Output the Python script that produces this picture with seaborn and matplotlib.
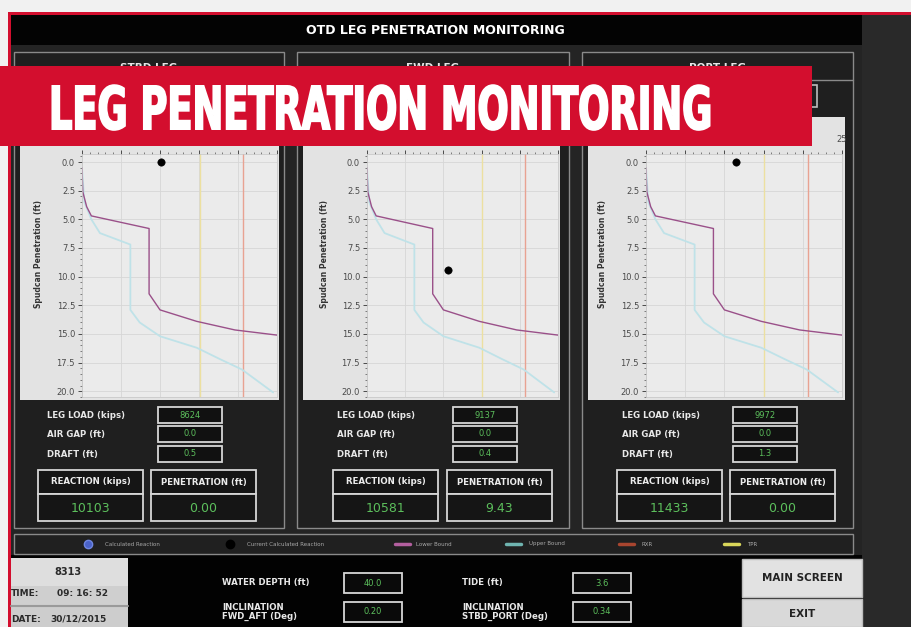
"""
Leg penetration monitoring screen - rebuilt with seaborn / matplotlib.
"""
import numpy as np
import pandas as pd
import matplotlib
matplotlib.use("Agg")
import matplotlib.pyplot as plt
import seaborn as sns
from matplotlib.patches import Rectangle
from matplotlib import patheffects
from matplotlib.ticker import MultipleLocator
from matplotlib.transforms import Affine2D

legs = ["STBD LEG", "FWD LEG", "PORT LEG"]
leg_load = [8624, 9137, 9972]
air_gap = [0.0, 0.0, 0.0]
draft = [0.5, 0.4, 1.3]
reaction = [10103, 10581, 11433]
penetration = [0.00, 9.43, 0.00]

# bound curves: reaction (x1000 kips) vs spudcan penetration (ft)
lower_x = [0.0, 0.1, 0.6, 1.2, 8.6, 8.6, 10.0, 14.7, 19.6, 25.0]
lower_y = [0.5, 2.6, 3.9, 4.7, 5.8, 11.5, 12.9, 13.9, 14.65, 15.1]
upper_x = [0.0, 0.3, 1.2, 2.3, 6.2, 6.2, 7.4, 10.0, 14.7, 17.7, 20.5, 24.5]
upper_y = [0.5, 3.5, 5.0, 6.2, 7.2, 12.9, 14.0, 15.2, 16.2, 17.2, 18.1, 20.1]
rxr = 20.7
tpr = 15.1

water_depth = 40.0
tide = 3.6
incl_fwd_aft = 0.20
incl_stbd_port = 0.34
screen_id = "8313"
time_str = "09: 16: 52"
date_str = "30/12/2015"

legend_items = ["Calculated Reaction", "Current Calculated Reaction",
                "Lower Bound", "Upper Bound", "RXR", "TPR"]

# colours
RED = "#d30e2e"
GREEN = "#5cbf5c"
LOW_C = "#9a5089"
UP_C = "#bfe2e8"
RXR_C = "#e8a292"
TPR_C = "#ece0a0"

# pixel layout of the 912x627 screen
W, H = 912, 627
panel_x = [(14, 284), (297, 569), (582, 853)]
axes_x = [(82, 277), (367, 558), (646, 842)]
chart_x = [(20, 279), (303, 560), (588, 845)]
label_x = [47, 337, 622]
valbox_x = [158, 453, 733]
react_x = [38, 333, 617]
pen_x = [151, 447, 730]


class Stretch(patheffects.AbstractPathEffect):
    """Draw text stretched vertically about its baseline (display px), with an outline."""

    def __init__(self, sy, y0, stroke=0.0):
        super().__init__()
        self.sy, self.y0, self.stroke = sy, y0, stroke

    def draw_path(self, renderer, gc, tpath, affine, rgbFace=None):
        aff = affine + Affine2D().translate(0, -self.y0).scale(1, self.sy).translate(0, self.y0)
        gc0 = renderer.new_gc()
        gc0.copy_properties(gc)
        gc0.set_linewidth(self.stroke)
        gc0.set_joinstyle("miter")
        renderer.draw_path(gc0, tpath, aff, rgbFace)
        gc0.restore()


def frac(x0, y0, x1, y1):
    return [x0 / W, 1 - y1 / H, (x1 - x0) / W, (y1 - y0) / H]


def box(ax, x0, y0, x1, y1, fc="none", ec="none", lw=1.0, z=1):
    ax.add_patch(Rectangle((x0, y0), x1 - x0, y1 - y0, facecolor=fc,
                           edgecolor=ec, linewidth=lw, zorder=z))


sns.set_theme(style="whitegrid")
plt.rcParams["font.family"] = ["DejaVu Sans"]

fig = plt.figure(figsize=(W / 100, H / 100), dpi=100, facecolor="#f1f1f1")

bg = fig.add_axes([0, 0, 1, 1])
bg.set_xlim(0, W)
bg.set_ylim(H, 0)
bg.axis("off")

# frame + screen backgrounds
box(bg, 8, 12, W, H, fc=RED)
box(bg, 11, 15, W, H, fc="#030303")
box(bg, 11, 45, W, 555, fc="#242424")
box(bg, 862, 15, W, H, fc="#292929")
bg.text(435, 31, "OTD LEG PENETRATION MONITORING", color="white", fontsize=9,
        fontweight="bold", ha="center", va="center")

for i, leg in enumerate(legs):
    px0, px1 = panel_x[i]
    box(bg, px0, 52, px1, 528, fc="#1f1f1f", ec="#8a8a8a", lw=1.0)
    bg.plot([px0, px1], [80, 80], color="#8a8a8a", lw=1.0)
    bg.text((px0 + px1) / 2, 68, leg, color="#e6e6e6", fontsize=7.5,
            fontweight="bold", ha="center", va="center")
    cx0, cx1 = chart_x[i]
    box(bg, cx0, 117, cx1, 400, fc="#e3e3e3", z=2)

    # small readouts
    rows = [("LEG LOAD (kips)", f"{leg_load[i]}", 415),
            ("AIR GAP (ft)", f"{air_gap[i]:.1f}", 434),
            ("DRAFT (ft)", f"{draft[i]:.1f}", 454)]
    for name, val, y in rows:
        bg.text(label_x[i], y, name, color="#e8e8e8", fontsize=6.2,
                fontweight="bold", ha="left", va="center")
        vx = valbox_x[i]
        box(bg, vx, y - 8, vx + 64, y + 8, fc="#111111", ec="#d6d6d6", lw=1.3)
        bg.text(vx + 32, y, val, color=GREEN, fontsize=6, ha="center", va="center")

    for bx, head, val in [(react_x[i], "REACTION (kips)", f"{reaction[i]}"),
                          (pen_x[i], "PENETRATION (ft)", f"{penetration[i]:.2f}")]:
        box(bg, bx, 470, bx + 105, 494, fc="#151515", ec="#d6d6d6", lw=1.3)
        box(bg, bx, 494, bx + 105, 521, fc="#151515", ec="#d6d6d6", lw=1.3)
        bg.text(bx + 52.5, 482, head, color="#ececec", fontsize=6.2,
                fontweight="bold", ha="center", va="center")
        bg.text(bx + 52.5, 508, val, color=GREEN, fontsize=9,
                ha="center", va="center")

box(bg, 740, 85, 817, 107, ec="#bdbdbd", lw=1.2)

# legend strip
box(bg, 14, 534, 853, 554, fc="#202020", ec="#8a8a8a", lw=1.0)
leg_y = 544
bg.plot([88], [leg_y], marker="o", ms=6, color="#4a62c8", mec="#6f86e0")
bg.plot([230], [leg_y], marker="o", ms=6, color="black")
for x0, c in [(395, "#b35f9f"), (506, "#6fb4b0"), (619, "#a8452f"), (724, "#d9d65a")]:
    bg.plot([x0, x0 + 15], [leg_y, leg_y], color=c, lw=2.5, solid_capstyle="round")
for x, s in zip([105, 247, 416, 529, 642, 747], legend_items):
    bg.text(x, leg_y, s, color="#a8a8a8", fontsize=4, ha="left", va="center")

# bottom bar
box(bg, 11, 556, W, H, fc="#020202")
box(bg, 862, 556, W, H, fc="#292929")
box(bg, 11, 558, 128, 586, fc="#dedede")
box(bg, 11, 586, 128, 606, fc="#cfcfcf")
box(bg, 11, 606, 128, H, fc="#cdcdcd")
bg.plot([11, 128], [606, 606], color="#9a9a9a", lw=1.5)
bg.text(68, 572, screen_id, color="#2a2a2a", fontsize=7, fontweight="bold",
        ha="center", va="center")
bg.text(11, 594, "TIME:", color="#2a2a2a", fontsize=6.5, fontweight="bold", va="center")
bg.text(57, 594, time_str, color="#2a2a2a", fontsize=6.5, fontweight="bold", va="center")
bg.text(11, 619, "DATE:", color="#2a2a2a", fontsize=6.5, fontweight="bold", va="center")
bg.text(50, 619, date_str, color="#2a2a2a", fontsize=6.5, fontweight="bold", va="center")

bottom_rows = [
    (222, 583, "WATER DEPTH (ft)", 344, f"{water_depth:.1f}"),
    (222, 612, "INCLINATION\nFWD_AFT (Deg)", 344, f"{incl_fwd_aft:.2f}"),
    (462, 583, "TIDE (ft)", 573, f"{tide:.1f}"),
    (462, 612, "INCLINATION\nSTBD_PORT (Deg)", 573, f"{incl_stbd_port:.2f}"),
]
for lx, y, name, vx, val in bottom_rows:
    bg.text(lx, y, name, color="#e8e8e8", fontsize=6.2, fontweight="bold",
            ha="left", va="center", linespacing=1.0)
    box(bg, vx, y - 10, vx + 58, y + 10, fc="#0a0a0a", ec="#d6d6d6", lw=1.3)
    bg.text(vx + 29, y, val, color=GREEN, fontsize=6, ha="center", va="center")

box(bg, 742, 559, 862, 597, fc="#e2e2e2", ec="#bdbdbd", lw=1.0)
box(bg, 742, 599, 862, H, fc="#d9d9d9", ec="#bdbdbd", lw=1.0)
bg.text(802, 578, "MAIN SCREEN", color="#222222", fontsize=7.5, fontweight="bold",
        ha="center", va="center")
bg.text(802, 614, "EXIT", color="#222222", fontsize=7.5, fontweight="bold",
        ha="center", va="center")

# the three penetration charts
df_low = pd.DataFrame({"reaction": lower_x, "depth": lower_y})
df_up = pd.DataFrame({"reaction": upper_x, "depth": upper_y})
xt = np.arange(0, 26, 5)
yt = np.arange(0, 20.1, 2.5)

for i, leg in enumerate(legs):
    ax0, ax1 = axes_x[i]
    ax = fig.add_axes(frac(ax0, 154, ax1, 397), zorder=2)
    ax.set_facecolor("#ebebeb")
    ax.axvline(tpr, color=TPR_C, lw=1.0, zorder=1)
    ax.axvline(rxr, color=RXR_C, lw=1.0, zorder=1)
    sns.lineplot(data=df_up, x="reaction", y="depth", sort=False, estimator=None,
                 color=UP_C, lw=1.3, ax=ax)
    sns.lineplot(data=df_low, x="reaction", y="depth", sort=False, estimator=None,
                 color=LOW_C, lw=1.0, ax=ax)
    cur = pd.DataFrame({"reaction": [reaction[i] / 1000], "depth": [penetration[i]]})
    sns.scatterplot(data=cur, x="reaction", y="depth", color="black", s=28,
                    edgecolor="black", zorder=5, clip_on=False, ax=ax)

    ax.set_xlim(0, 25)
    ax.set_ylim(20.5, -0.7)
    ax.xaxis.tick_top()
    ax.set_xticks(xt)
    # only the last top label peeks out from under the banner (PORT chart)
    ax.set_xticklabels(["" for v in xt[:-1]] + (["25"] if i == 2 else [""]))
    ax.xaxis.set_minor_locator(MultipleLocator(1))
    ax.set_yticks(yt)
    ax.set_yticklabels([f"{v:.1f}" for v in yt])
    ax.yaxis.set_minor_locator(MultipleLocator(0.5))
    ax.grid(True, which="major", color="#d6d6d6", lw=0.6)
    ax.tick_params(which="major", labelsize=6, colors="#4a4a4a", length=3,
                   width=0.7, pad=2, left=True, top=True)
    ax.tick_params(axis="x", which="major", pad=4)
    ax.tick_params(which="minor", length=1.5, width=0.6, color="#6a6a6a",
                   left=True, top=True)
    for sp in ax.spines.values():
        sp.set_color("#c4c4c4")
        sp.set_linewidth(0.5)
    ax.set_xlabel("")
    ax.set_ylabel("Spudcan Penetration (ft)", fontsize=5.5, fontweight="bold",
                  color="#333333")
    ax.yaxis.set_label_coords(-0.2, 0.59)

# red banner on top of everything
top = fig.add_axes([0, 0, 1, 1], zorder=10)
top.set_xlim(0, W)
top.set_ylim(H, 0)
top.axis("off")
box(top, 0, 66, 812, 146, fc=RED)

stroke_pt = 1.3
stroke_px = stroke_pt * 100 / 72
base_y = 130 - stroke_px / 2
title = top.text(49, base_y, "LEG PENETRATION MONITORING", color="white",
                 fontsize=25, fontweight="bold", ha="left", va="baseline")
fig.canvas.draw()
w = title.get_window_extent(renderer=fig.canvas.get_renderer()).width
fs = 25 * (667 - stroke_px) / w
title.set_fontsize(fs)
cap_px = 0.729 * fs * 100 / 72
title.set_path_effects([Stretch((45 - stroke_px) / cap_px, H - base_y, stroke=stroke_pt)])

fig.savefig("out.png", dpi=100, facecolor=fig.get_facecolor())
